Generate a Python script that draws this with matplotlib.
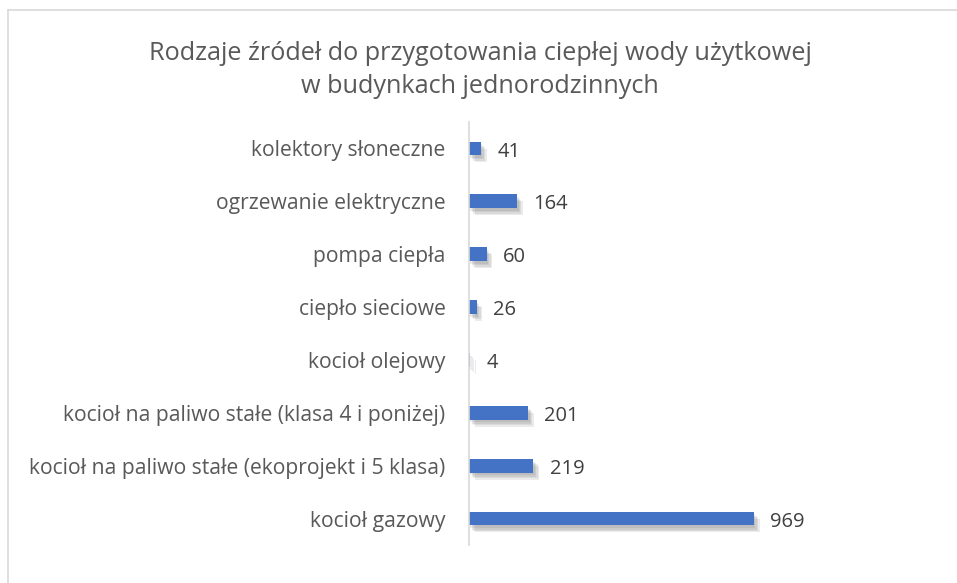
import matplotlib.pyplot as plt
import matplotlib.patheffects as pe
from matplotlib.lines import Line2D

# --- Data ---
categories = [
    "kolektory słoneczne",
    "ogrzewanie elektryczne",
    "pompa ciepła",
    "ciepło sieciowe",
    "kocioł olejowy",
    "kocioł na paliwo stałe (klasa 4 i poniżej)",
    "kocioł na paliwo stałe (ekoprojekt i 5 klasa)",
    "kocioł gazowy",
]
values = [41, 164, 60, 26, 4, 201, 219, 969]
title = "Rodzaje źródeł do przygotowania ciepłej wody użytkowej\nw budynkach jednorodzinnych"

plt.rcParams['font.family'] = ['Open Sans', 'DejaVu Sans']

fig = plt.figure(figsize=(9.57, 5.83), dpi=100)
# chart frame (only top and left edges are visible in the crop)
fig.lines.append(Line2D([8 / 957, 1], [1 - 10 / 583] * 2, transform=fig.transFigure,
                        color='#d9d9d9', lw=1.2))
fig.lines.append(Line2D([8 / 957] * 2, [0, 1 - 10 / 583], transform=fig.transFigure,
                        color='#d9d9d9', lw=1.2))

ax = fig.add_axes([469 / 957, 38 / 583, 430 / 957, 423 / 583])
y = list(range(len(categories)))
# soft shadow: a few stacked offsets with low alpha
shadow = [pe.SimplePatchShadow(offset=(d, -d - 1), shadow_rgbFace='#606060', alpha=0.12)
          for d in (1, 2, 3, 4)] + [pe.Normal()]
ax.barh(y, values, height=0.26, color='#4472c4', path_effects=shadow)

for yi, v in zip(y, values):
    ax.text(v + 55, yi + 0.06, str(v), va='center', ha='left', fontsize=14.5, color='#404040')

ax.set_ylim(len(categories) - 0.5, -0.5)
ax.set_xlim(0, 1462)
ax.set_yticks(y)
ax.set_yticklabels(categories, fontsize=15.2, color='#595959')
ax.tick_params(axis='y', length=0, pad=17)
ax.set_xticks([])
for s in ['top', 'right', 'bottom']:
    ax.spines[s].set_visible(False)
ax.spines['left'].set_color('#d9d9d9')
ax.spines['left'].set_linewidth(1.2)

fig.text(480 / 957, 1 - 70 / 583, title, ha='center', va='center', fontsize=18.2,
         color='#595959', linespacing=1.45)

fig.savefig('out.png', dpi=100)
